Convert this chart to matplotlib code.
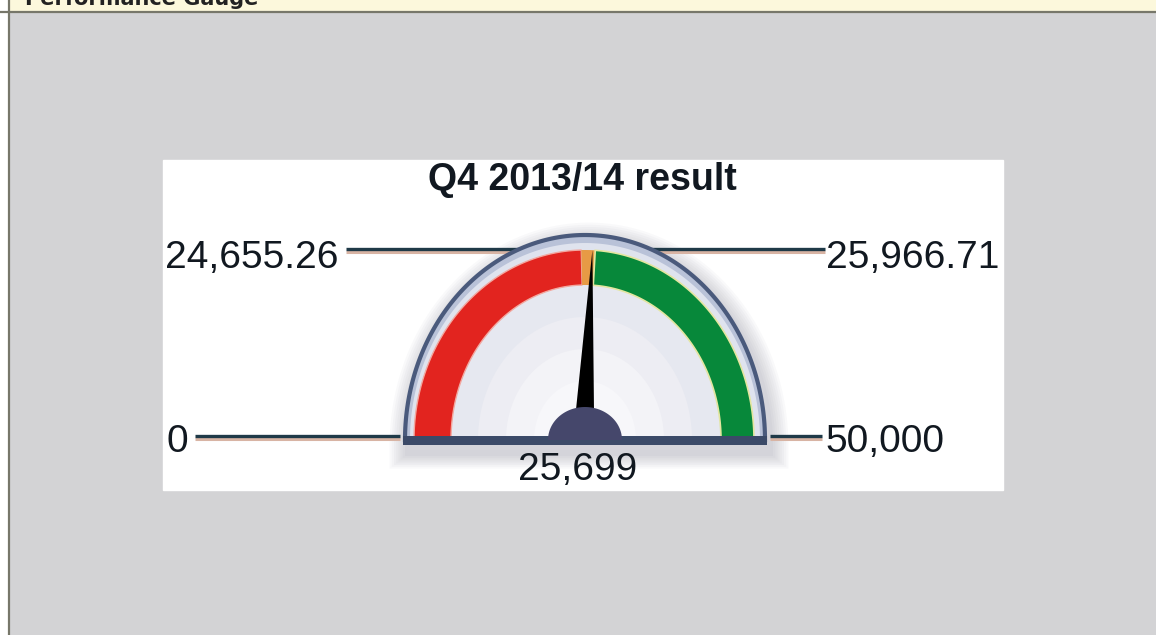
import matplotlib
matplotlib.use('Agg')
import matplotlib.pyplot as plt
import numpy as np
from matplotlib.patches import Polygon, Rectangle

# Gauge values
gauge_min = 0
gauge_max = 50000
red_limit = 24655.26
green_limit = 25966.71
result_value = 25699
title_text = "Q4 2013/14 result"
header_text = "Performance Gauge"
limit_labels = ["24,655.26", "25,966.71", "0", "50,000"]
value_label = "25,699"

plt.rcParams['font.family'] = ['Liberation Sans', 'DejaVu Sans']

fig = plt.figure(figsize=(11.56, 6.35), dpi=100)
ax = fig.add_axes([0, 0, 1, 1])
ax.set_xlim(0, 1156)
ax.set_ylim(635, 0)
ax.axis('off')

# page chrome: grey panel, header strip, borders
ax.add_patch(Rectangle((0, 0), 1156, 635, color='white', zorder=0))
ax.add_patch(Rectangle((10, 12), 1146, 623, color='#d3d3d5', zorder=0))
ax.add_patch(Rectangle((10, 0), 1146, 11, color='#fcf8dc', zorder=0))
ax.plot([0, 1156], [11.5, 11.5], color='#77776a', lw=1.6, zorder=1)
ax.plot([9, 9], [0, 635], color='#77776a', lw=1.6, zorder=1)
# header title is cut off by the top edge in the original screenshot
ax.text(25, 5, header_text, fontsize=15, fontweight='bold', family='DejaVu Sans',
        color='#222222', va='baseline', ha='left', zorder=2)

# white chart area
ax.add_patch(Rectangle((163, 160), 840, 330, color='white', zorder=1))

cx, cy = 585, 440


def val_to_angle(v):
    return np.pi * (1 - (v - gauge_min) / (gauge_max - gauge_min))


def ring(a0, a1, rx_out, ry_out, rx_in, ry_in, n=120):
    t = np.linspace(a0, a1, n)
    outer = np.column_stack([cx + rx_out * np.cos(t), cy - ry_out * np.sin(t)])
    inner = np.column_stack([cx + rx_in * np.cos(t[::-1]), cy - ry_in * np.sin(t[::-1])])
    return np.vstack([outer, inner])


def half_ellipse(rx, ry, dx=0, dy=0, n=160):
    t = np.linspace(0, np.pi, n)
    return np.column_stack([cx + dx + rx * np.cos(t), cy + dy - ry * np.sin(t)])


# soft shadow
for k in range(8):
    pts = half_ellipse(184 + k * 2.2, 208 + k * 2.2, dx=4, dy=6)
    pts = np.vstack([pts, [[cx + 4 - 184 - k * 2.2, cy + 16 + k * 1.8],
                           [cx + 4 + 184 + k * 2.2, cy + 16 + k * 1.8]]])
    ax.add_patch(Polygon(pts, closed=True, color='#707080', alpha=0.04, lw=0, zorder=2))

# leader lines with their warm shadow
def leader(x0, x1, y):
    ax.plot([x0, x1], [y + 2.5, y + 2.5], color='#d8b4a4', lw=2.2, zorder=3,
            solid_capstyle='butt')
    ax.plot([x0, x1], [y, y], color='#1f3a48', lw=2.4, zorder=3.1,
            solid_capstyle='butt')

leader(346, 825, 249)
leader(195, 400, 436)
leader(770, 822, 436)

# rim and face
ax.add_patch(Polygon(half_ellipse(180, 205), closed=True, facecolor='#b9c2d8',
                     edgecolor='#4a5a7c', lw=3, zorder=4))
ax.add_patch(Polygon(half_ellipse(175, 197), closed=True, facecolor='#dfe3ee',
                     edgecolor='none', zorder=4.1))
for k, col in enumerate(['#e6e8f0', '#ededf3', '#f3f3f7', '#f7f7fa']):
    ax.add_patch(Polygon(half_ellipse(135 - k * 28, 155 - k * 32), closed=True,
                         facecolor=col, edgecolor='none', zorder=4.2 + k * 0.01))

# colour bands
a_min, a_red, a_green, a_max = (val_to_angle(v) for v in
                                (gauge_min, red_limit, green_limit, gauge_max))
ax.add_patch(Polygon(ring(a_red, a_min, 171, 190, 134, 155), closed=True,
                     facecolor='#e2241f', edgecolor='#f2a8a0', lw=1, zorder=5))
ax.add_patch(Polygon(ring(a_green, a_red, 171, 190, 134, 155), closed=True,
                     facecolor='#e79a45', edgecolor='none', zorder=5))
ax.add_patch(Polygon(ring(a_max, a_green, 169, 190, 136, 155), closed=True,
                     facecolor='#07883a', edgecolor='#e4e6a0', lw=1.2, zorder=5))

# base bar
ax.add_patch(Rectangle((403, 436), 364, 9, facecolor='#3b4a68', edgecolor='none',
                       zorder=6))

# needle
a_val = val_to_angle(result_value)
tip = (cx + 168 * np.cos(a_val), cy - 190 * np.sin(a_val))
perp = np.array([np.sin(a_val), np.cos(a_val)])
base = np.array([cx, cy - 30])
needle = np.array([base + perp * 9, tip, base - perp * 9])
ax.add_patch(Polygon(needle, closed=True, facecolor='black', edgecolor='none',
                     zorder=7))

# hub
t = np.linspace(0, np.pi, 80)
hub = np.column_stack([cx + 37 * np.cos(t), cy - 33 * np.sin(t)])
ax.add_patch(Polygon(hub, closed=True, facecolor='#45476b', edgecolor='none',
                     zorder=8))

# text
fs = 28
tc = '#111820'
ax.text(582, 180, title_text, fontsize=27, fontweight='bold', ha='center',
        va='center', color=tc, zorder=9)
ax.text(165, 258, limit_labels[0], fontsize=fs, ha='left', va='center',
        color=tc, zorder=9)
ax.text(826, 258, limit_labels[1], fontsize=fs, ha='left', va='center',
        color=tc, zorder=9)
ax.text(166, 442, limit_labels[2], fontsize=fs, ha='left', va='center',
        color=tc, zorder=9)
ax.text(825, 442, limit_labels[3], fontsize=fs, ha='left', va='center',
        color=tc, zorder=9)
ax.text(578, 470, value_label, fontsize=fs, ha='center', va='center',
        color=tc, zorder=9)

fig.savefig('out.png', dpi=100)
